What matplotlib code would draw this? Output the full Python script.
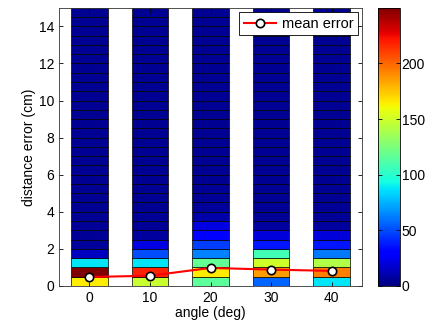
import numpy as np
import matplotlib
matplotlib.use("Agg")
from matplotlib import pyplot as plt
from matplotlib import cm, colors

plt.rcParams['font.family'] = ['Liberation Sans', 'DejaVu Sans']
plt.rcParams['font.size'] = 10

# error histograms per angle, counts in 0.5 cm bins from 0 to 15 cm
angles = [0, 10, 20, 30, 40]
bin_size = 0.5
counts_0 = [165, 250, 87, 14, 6, 5, 5, 4, 4, 4, 4, 4, 4, 4, 4,
            4, 4, 4, 4, 4, 4, 4, 4, 4, 4, 4, 4, 4, 4, 4]
counts_10 = [148, 218, 87, 50, 22, 7, 5, 5, 4, 4, 4, 4, 4, 4, 4,
             4, 4, 4, 4, 4, 4, 4, 4, 4, 4, 4, 4, 4, 4, 4]
counts_20 = [116, 166, 118, 63, 46, 31, 22, 9, 6, 5, 5, 4, 4, 4, 4,
             4, 4, 4, 4, 4, 4, 4, 4, 4, 4, 4, 4, 4, 4, 4]
counts_30 = [56, 186, 150, 107, 37, 20, 7, 5, 5, 4, 4, 4, 4, 4, 4,
             4, 4, 4, 4, 4, 4, 4, 4, 4, 4, 4, 4, 4, 4, 4]
counts_40 = [87, 194, 141, 61, 37, 20, 7, 5, 5, 4, 4, 4, 4, 4, 4,
             4, 4, 4, 4, 4, 4, 4, 4, 4, 4, 4, 4, 4, 4, 4]
mean_error = [0.48, 0.55, 0.97, 0.88, 0.81]

all_counts = [counts_0, counts_10, counts_20, counts_30, counts_40]

fig = plt.figure(figsize=(4.35, 3.29), dpi=100)
ax = fig.add_axes([0.136, 0.131, 0.696, 0.845])
cax = fig.add_axes([0.869, 0.131, 0.051, 0.845])

cmap = plt.get_cmap('jet')
norm = colors.Normalize(vmin=0, vmax=max(max(c) for c in all_counts))

for angle, counts in zip(angles, all_counts):
    bottoms = np.arange(len(counts)) * bin_size
    ax.bar([angle] * len(counts), [bin_size] * len(counts), bottom=bottoms,
           width=6, color=cmap(norm(np.array(counts))), edgecolor='black',
           linewidth=0.5, align='center')

ax.plot(angles, mean_error, '-o', color='red', lw=1.5, markersize=6,
        markerfacecolor='white', markeredgecolor='black', markeredgewidth=1.2,
        label='mean error', zorder=5)

ax.set_xlim(-5, 45)
ax.set_ylim(0, 15)
ax.set_xticks(angles)
ax.set_yticks(range(0, 15, 2))
ax.tick_params(direction='in', top=True, right=True, length=3, width=0.6)
ax.set_xlabel('angle (deg)', labelpad=1)
ax.set_ylabel('distance error (cm)', labelpad=2)
for s in ax.spines.values():
    s.set_linewidth(0.6)
    s.set_color('#333333')

leg = ax.legend(loc='upper right', fancybox=False, framealpha=1,
                edgecolor='black', borderpad=0.3, handlelength=2.2,
                handletextpad=0.4, borderaxespad=0.3, fontsize=10.5)
leg.get_frame().set_linewidth(0.6)

sm = cm.ScalarMappable(norm=norm, cmap=cmap)
cb = fig.colorbar(sm, cax=cax)
cb.set_ticks([0, 50, 100, 150, 200])
cb.ax.tick_params(direction='in', length=3, width=0.6, left=True, pad=1)
cb.outline.set_linewidth(0.6)

fig.savefig('out.png', dpi=100)
